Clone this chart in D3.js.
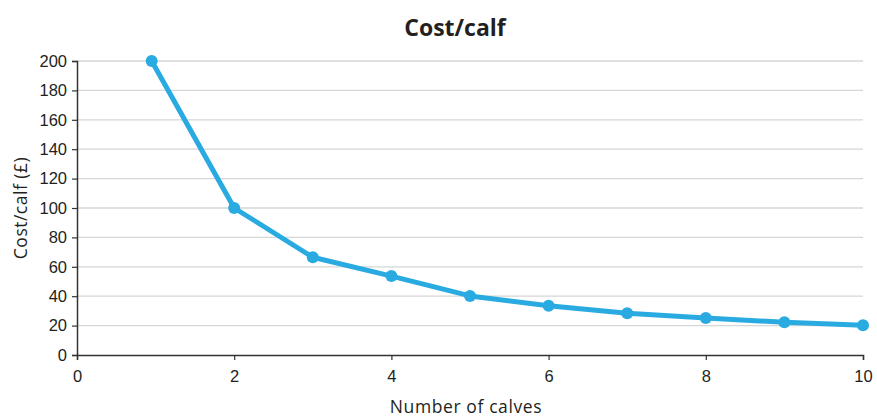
<!DOCTYPE html>
<html>
<head>
<meta charset="utf-8">
<script src="https://cdn.jsdelivr.net/npm/d3@7"></script>
<style>
  html, body { margin: 0; padding: 0; background: #fff; }
  svg { display: block; font-family: "Open Sans", "Noto Sans", sans-serif; }
</style>
</head>
<body>
<svg id="chart" width="877" height="419"></svg>
<script>
// Number of calves and the cost per calf (£)
const calves = [0.95, 2, 3, 4, 5, 6, 7, 8, 9, 10];
const costPerCalf = [200, 100, 66.5, 53.7, 40.2, 33.5, 28.4, 25.2, 22.2, 20.2];
const xTicks = [0, 2, 4, 6, 8, 10];
const yTicks = [0, 20, 40, 60, 80, 100, 120, 140, 160, 180, 200];

const svg = d3.select("#chart");
const plotLeft = 77, plotRight = 863, plotTop = 61, plotBottom = 355;

const x = d3.scaleLinear().domain([0, 10]).range([plotLeft, plotRight]);
const y = d3.scaleLinear().domain([0, 200]).range([plotBottom, plotTop]);

const textColor = "#231f20";

// horizontal gridlines
svg.append("g")
  .selectAll("line")
  .data(yTicks.filter(d => d > 0))
  .join("line")
  .attr("x1", plotLeft).attr("x2", plotRight)
  .attr("y1", d => y(d)).attr("y2", d => y(d))
  .attr("stroke", "#d6d6d6").attr("stroke-width", 1.3);

// y axis
const yAxis = svg.append("g")
  .attr("transform", `translate(${plotLeft},0)`)
  .call(d3.axisLeft(y).tickValues(yTicks).tickSize(5).tickPadding(5).tickFormat(d3.format("d")));
yAxis.select(".domain").attr("stroke", "#333").attr("stroke-width", 1.5);
yAxis.selectAll(".tick line").attr("stroke", "#333").attr("stroke-width", 1.2);
yAxis.selectAll(".tick text").attr("fill", textColor).style("font-size", "16.5px");

// x axis
const xAxis = svg.append("g")
  .attr("transform", `translate(0,${plotBottom})`)
  .call(d3.axisBottom(x).tickValues(xTicks).tickSize(5).tickPadding(10).tickFormat(d3.format("d")));
xAxis.select(".domain").attr("stroke", "#333").attr("stroke-width", 1.5);
xAxis.selectAll(".tick line").attr("stroke", "#333").attr("stroke-width", 1.2);
xAxis.selectAll(".tick text").attr("fill", textColor).style("font-size", "16.5px");

// data line and markers
const pts = calves.map((c, i) => [c, costPerCalf[i]]);
const color = "#29abe2";
svg.append("path")
  .datum(pts)
  .attr("fill", "none")
  .attr("stroke", color)
  .attr("stroke-width", 5)
  .attr("stroke-linejoin", "round")
  .attr("d", d3.line().x(d => x(d[0])).y(d => y(d[1])));

svg.append("g")
  .selectAll("circle")
  .data(pts)
  .join("circle")
  .attr("cx", d => x(d[0]))
  .attr("cy", d => y(d[1]))
  .attr("r", 6)
  .attr("fill", color);

// title
svg.append("text")
  .attr("x", 455).attr("y", 36)
  .attr("text-anchor", "middle")
  .attr("fill", textColor)
  .style("font-size", "23px").style("font-weight", "bold")
  .text("Cost/calf");

// axis titles
svg.append("text")
  .attr("x", 466).attr("y", 413)
  .attr("text-anchor", "middle")
  .attr("fill", textColor)
  .style("font-size", "17.5px")
  .style("letter-spacing", "0.6px")
  .text("Number of calves");

svg.append("text")
  .attr("transform", "translate(27,208) rotate(-90)")
  .attr("text-anchor", "middle")
  .attr("fill", textColor)
  .style("font-size", "17.5px")
  .style("letter-spacing", "0.5px")
  .text("Cost/calf (£)");
</script>
</body>
</html>
